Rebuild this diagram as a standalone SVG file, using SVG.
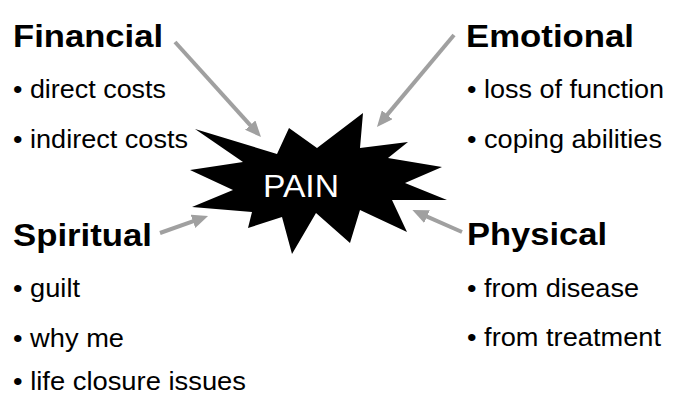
<svg xmlns="http://www.w3.org/2000/svg" width="696" height="397" viewBox="0 0 696 397">
<style>
.h{font-family:"Liberation Sans",Arial,sans-serif;font-weight:bold;font-size:32px;fill:#000}
.b{font-family:"Liberation Sans",Arial,sans-serif;font-size:25px;fill:#000}
.c{stroke:#a0a0a0;stroke-width:4;fill:none}
</style>
<defs>
<marker id="ah" markerUnits="userSpaceOnUse" markerWidth="16" markerHeight="14" refX="8" refY="7" orient="auto">
<path d="M0,0 L16,7 L0,14 z" fill="#a0a0a0"/>
</marker>
</defs>
<rect width="696" height="397" fill="#ffffff"/>
<g id="pain">
<polygon fill="#000" points="195,129 277,154 289,128 317,148 363,113 360,148 408,142 388,158 442,167 405,183 447,200 392,200 407,232 360,210 350,243 316,213 292,254 282,217 248,228 252,212 192,207 233,190 190,170 243,162"/>
<text x="263" y="197" font-family="Liberation Sans,Arial,sans-serif" font-size="32" fill="#fff" textLength="76" lengthAdjust="spacingAndGlyphs">PAIN</text>
</g>
<g id="connectors">
<line class="c" x1="175" y1="42" x2="255.6" y2="131.1" marker-end="url(#ah)"/>
<line class="c" x1="454" y1="35" x2="382.1" y2="120.9" marker-end="url(#ah)"/>
<line class="c" x1="160" y1="233" x2="200.5" y2="218.7" marker-end="url(#ah)"/>
<line class="c" x1="462" y1="232" x2="419.7" y2="213.3" marker-end="url(#ah)"/>
</g>
<g id="financial">
<text class="h" x="13" y="47" textLength="150" lengthAdjust="spacingAndGlyphs">Financial</text>
<text class="b" x="13" y="98" textLength="153" lengthAdjust="spacingAndGlyphs">• direct costs</text>
<text class="b" x="13" y="148" textLength="175" lengthAdjust="spacingAndGlyphs">• indirect costs</text>
</g>
<g id="emotional">
<text class="h" x="466" y="47" textLength="168" lengthAdjust="spacingAndGlyphs">Emotional</text>
<text class="b" x="467" y="98" textLength="197" lengthAdjust="spacingAndGlyphs">• loss of function</text>
<text class="b" x="467" y="148" textLength="195" lengthAdjust="spacingAndGlyphs">• coping abilities</text>
</g>
<g id="spiritual">
<text class="h" x="13" y="246" textLength="139" lengthAdjust="spacingAndGlyphs">Spiritual</text>
<text class="b" x="13" y="297" textLength="67" lengthAdjust="spacingAndGlyphs">• guilt</text>
<text class="b" x="13" y="347" textLength="111" lengthAdjust="spacingAndGlyphs">• why me</text>
<text class="b" x="13" y="390" textLength="233" lengthAdjust="spacingAndGlyphs">• life closure issues</text>
</g>
<g id="physical">
<text class="h" x="467" y="245" textLength="140" lengthAdjust="spacingAndGlyphs">Physical</text>
<text class="b" x="467" y="297" textLength="172" lengthAdjust="spacingAndGlyphs">• from disease</text>
<text class="b" x="467" y="346" textLength="194" lengthAdjust="spacingAndGlyphs">• from treatment</text>
</g>
</svg>
